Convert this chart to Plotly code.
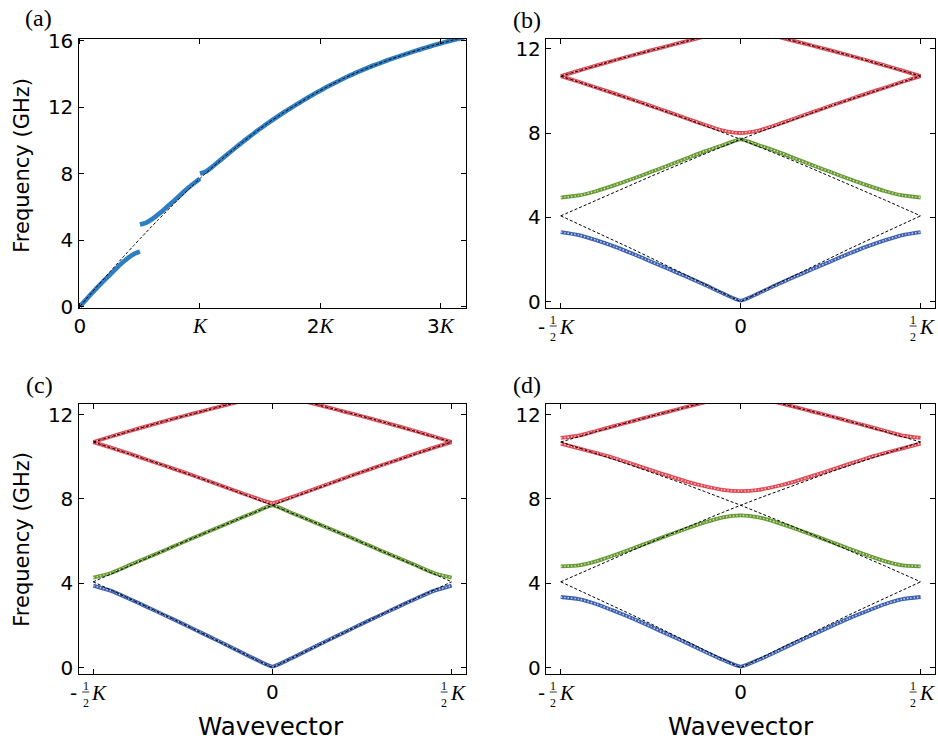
import plotly.graph_objects as go

# ---------------- data (k in units of K, frequency in GHz) ----------------
# free (empty-lattice) dispersion in the extended zone (black dashed)
free_k = [0.00, 0.05, 0.10, 0.15, 0.20, 0.25, 0.30, 0.35, 0.40, 0.45,
          0.50, 0.55, 0.60, 0.65, 0.70, 0.75, 0.80, 0.85, 0.90, 0.95,
          1.00, 1.05, 1.10, 1.15, 1.20, 1.25, 1.30, 1.35, 1.40, 1.45,
          1.50, 1.55, 1.60, 1.65, 1.70, 1.75, 1.80, 1.85, 1.90, 1.95,
          2.00, 2.05, 2.10, 2.15, 2.20, 2.25, 2.30, 2.35, 2.40, 2.45,
          2.50, 2.55, 2.60, 2.65, 2.70, 2.75, 2.80, 2.85, 2.90, 2.95,
          3.00, 3.05, 3.10, 3.15, 3.20]
free_f = [0.00, 0.42, 0.84, 1.26, 1.67, 2.08, 2.49, 2.89, 3.29, 3.68,
          4.07, 4.45, 4.83, 5.20, 5.57, 5.94, 6.30, 6.66, 7.01, 7.36,
          7.70, 8.03, 8.35, 8.67, 8.98, 9.28, 9.57, 9.86, 10.15, 10.43,
          10.70, 10.96, 11.21, 11.45, 11.69, 11.92, 12.14, 12.36, 12.58, 12.79,
          12.99, 13.19, 13.38, 13.56, 13.74, 13.91, 14.07, 14.22, 14.37, 14.52,
          14.65, 14.79, 14.92, 15.04, 15.16, 15.28, 15.40, 15.51, 15.62, 15.73,
          15.83, 15.93, 16.03, 16.12, 16.20]

# panel (a): computed branches in the extended zone
a_k1 = [0.00, 0.05, 0.10, 0.15, 0.20, 0.25, 0.30, 0.35, 0.40, 0.45, 0.50]
a_f1 = [0.00, 0.40, 0.80, 1.18, 1.55, 1.91, 2.27, 2.61, 2.91, 3.16, 3.30]
a_k2 = [0.50, 0.55, 0.60, 0.65, 0.70, 0.75, 0.80, 0.85, 0.90, 0.95, 1.00]
a_f2 = [4.94, 5.04, 5.25, 5.53, 5.83, 6.15, 6.47, 6.80, 7.13, 7.42, 7.70]
a_k3 = [1.00, 1.05, 1.10, 1.15, 1.20, 1.25, 1.30, 1.35, 1.40, 1.45,
        1.50, 1.55, 1.60, 1.65, 1.70, 1.75, 1.80, 1.85, 1.90, 1.95,
        2.00, 2.05, 2.10, 2.15, 2.20, 2.25, 2.30, 2.35, 2.40, 2.45,
        2.50, 2.55, 2.60, 2.65, 2.70, 2.75, 2.80, 2.85, 2.90, 2.95,
        3.00, 3.05, 3.10, 3.15, 3.20]
a_f3 = [8.00, 8.12, 8.39, 8.69, 8.99, 9.29, 9.58, 9.87, 10.15, 10.43,
        10.70, 10.96, 11.21, 11.45, 11.69, 11.92, 12.14, 12.36, 12.58, 12.79,
        12.99, 13.19, 13.38, 13.56, 13.74, 13.91, 14.07, 14.22, 14.37, 14.52,
        14.65, 14.79, 14.92, 15.04, 15.16, 15.28, 15.40, 15.51, 15.62, 15.73,
        15.83, 15.93, 16.03, 16.12, 16.20]

# panels (b)-(d): reduced-zone bands on half zone 0..K/2 (symmetric in k)
half_k = [0.00, 0.05, 0.10, 0.15, 0.20, 0.25, 0.30, 0.35, 0.40, 0.45, 0.50]
b_band1 = [0.05, 0.40, 0.80, 1.18, 1.55, 1.91, 2.27, 2.61, 2.91, 3.16, 3.30]
b_band2 = [7.70, 7.42, 7.13, 6.80, 6.47, 6.15, 5.83, 5.53, 5.25, 5.04, 4.94]
b_band3 = [8.00, 8.12, 8.39, 8.69, 8.99, 9.29, 9.58, 9.87, 10.15, 10.43, 10.70]
b_band4 = [12.99, 12.79, 12.58, 12.36, 12.14, 11.92, 11.69, 11.45, 11.21, 10.96, 10.70]

c_band1 = [0.05, 0.42, 0.84, 1.26, 1.67, 2.08, 2.48, 2.88, 3.27, 3.64, 3.89]
c_band2 = [7.70, 7.36, 7.01, 6.66, 6.30, 5.94, 5.57, 5.21, 4.85, 4.49, 4.27]
c_band3 = [7.80, 8.06, 8.36, 8.67, 8.98, 9.28, 9.57, 9.86, 10.15, 10.43, 10.69]
c_band4 = [12.99, 12.79, 12.58, 12.36, 12.14, 11.92, 11.69, 11.45, 11.21, 10.96, 10.70]

d_band1 = [0.05, 0.37, 0.76, 1.17, 1.56, 1.95, 2.33, 2.68, 3.01, 3.25, 3.35]
d_band2 = [7.22, 7.13, 6.89, 6.60, 6.29, 5.97, 5.65, 5.34, 5.05, 4.85, 4.80]
d_band3 = [8.37, 8.43, 8.60, 8.82, 9.09, 9.37, 9.65, 9.93, 10.17, 10.40, 10.62]
d_band4 = [12.99, 12.79, 12.58, 12.36, 12.14, 11.92, 11.69, 11.46, 11.23, 11.00, 10.89]

a_ticks = [0, 1, 2, 3]
a_yticks = [0, 4, 8, 12, 16]
bcd_ticks = [-0.5, 0, 0.5]
bcd_yticks = [0, 4, 8, 12]

# ---------------- styling ----------------
BLUE_A = "#2f7ec1"
BAND_COL = ["#3f62b0", "#679a35", "#e04853", "#e04853"]
BAND_LIGHT = ["#c9d4ee", "#d3e4bf", "#f9d0d3", "#f9d0d3"]
SANS = "DejaVu Sans"
SERIF = "Liberation Serif"
KHTML = "<span style='font-family:Liberation Serif;font-size:21px'><i>K</i></span>"

W, H = 938, 742
# plot areas in pixels: (left, right, top, bottom)
boxes = {
    "a": (78.5, 466, 39, 308),
    "b": (546, 935, 39, 308),
    "c": (78.5, 466, 404, 674),
    "d": (546, 935, 404, 674),
}


def dom(b):
    l, r, t, btm = b
    return [l / W, r / W], [(H - btm) / H, (H - t) / H]


fig = go.Figure()


def mirror(vals):
    xs = [-k for k in reversed(half_k)] + half_k[1:]
    ys = list(reversed(vals)) + vals[1:]
    return xs, ys


def folded(branch):
    lo, hi = 0.5 * branch - 1e-9, 0.5 * (branch + 1) + 1e-9
    pts = [(abs(k - round(k)), f) for k, f in zip(free_k, free_f) if lo <= k <= hi]
    pts.sort()
    xs = [-q for q, _ in reversed(pts)] + [q for q, _ in pts[1:]]
    ys = [f for _, f in reversed(pts)] + [f for _, f in pts[1:]]
    return xs, ys


def add_band(xs, ys, i, xa, ya):
    fig.add_trace(go.Scatter(x=xs, y=ys, mode="lines", xaxis=xa, yaxis=ya,
                             line=dict(color=BAND_COL[i], width=3.8, shape="spline", smoothing=0.5),
                             hoverinfo="skip"))
    fig.add_trace(go.Scatter(x=xs, y=ys, mode="lines", xaxis=xa, yaxis=ya,
                             line=dict(color=BAND_LIGHT[i], width=1.5, shape="spline", smoothing=0.5,
                                       dash="1.3px,2.1px"),
                             hoverinfo="skip"))


def add_dash(xs, ys, xa, ya, smooth=True):
    fig.add_trace(go.Scatter(x=xs, y=ys, mode="lines", xaxis=xa, yaxis=ya,
                             line=dict(color="black", width=1.0, dash="3px,2px",
                                       shape="spline" if smooth else "linear", smoothing=0.3),
                             hoverinfo="skip"))


# panel (a)
for kk, ff in [(a_k1, a_f1), (a_k2, a_f2), (a_k3, a_f3)]:
    fig.add_trace(go.Scatter(x=kk, y=ff, mode="lines", xaxis="x", yaxis="y",
                             line=dict(color=BLUE_A, width=4.6, shape="spline", smoothing=0.5),
                             hoverinfo="skip"))
add_dash(free_k, free_f, "x", "y")

# panels (b), (c), (d)
panel_bands = {
    "2": [b_band1, b_band2, b_band3, b_band4],
    "3": [c_band1, c_band2, c_band3, c_band4],
    "4": [d_band1, d_band2, d_band3, d_band4],
}
for ax, bands in panel_bands.items():
    for i, vals in enumerate(bands):
        xs, ys = mirror(vals)
        add_band(xs, ys, i, "x" + ax, "y" + ax)
    for br in range(4):
        xs, ys = folded(br)
        add_dash(xs, ys, "x" + ax, "y" + ax, smooth=False)

axis_common = dict(showline=True, linecolor="black", linewidth=1.3, mirror="ticks",
                   ticks="inside", ticklen=5, tickwidth=1, tickcolor="black",
                   showgrid=False, zeroline=False, automargin=False,
                   tickfont=dict(family=SANS, size=20, color="black"))

layout = dict(width=W, height=H, margin=dict(l=0, r=0, t=0, b=0, pad=0, autoexpand=False),
              paper_bgcolor="white", plot_bgcolor="white", showlegend=False,
              template="none")

xd, yd = dom(boxes["a"])
layout["xaxis"] = dict(axis_common, domain=xd, anchor="y", range=[-0.011, 3.214],
                       tickvals=a_ticks, ticktext=["0", KHTML, "2" + KHTML, "3" + KHTML],
                       ticklabelstandoff=0)
layout["yaxis"] = dict(axis_common, domain=yd, anchor="x", range=[-0.09, 16.1],
                       tickvals=a_yticks, ticktext=[str(v) for v in a_yticks])

yranges = {"2": [-0.30, 12.46], "3": [-0.30, 12.50], "4": [-0.30, 12.50]}
for ax, key in [("2", "b"), ("3", "c"), ("4", "d")]:
    xd, yd = dom(boxes[key])
    layout["xaxis" + ax] = dict(axis_common, domain=xd, anchor="y" + ax, range=[-0.541, 0.540],
                                tickvals=bcd_ticks, ticktext=["", "0", ""], ticklabelstandoff=0)
    layout["yaxis" + ax] = dict(axis_common, domain=yd, anchor="x" + ax, range=yranges[ax],
                                tickvals=bcd_yticks, ticktext=[str(v) for v in bcd_yticks])

annotations = []
shapes = []


def ann(text, x, y, xref="paper", yref="paper", size=20, family=SANS, xshift=0, yshift=0, angle=0):
    annotations.append(dict(text=text, x=x, y=y, xref=xref, yref=yref, showarrow=False,
                            xanchor="center", yanchor="middle", xshift=xshift, yshift=yshift,
                            textangle=angle, font=dict(family=family, size=size, color="black")))


# fraction tick labels  -1/2 K  and  1/2 K
for ax, key in [("2", "b"), ("3", "c"), ("4", "d")]:
    ybot = (H - boxes[key][3]) / H
    for t in [-0.5, 0.5]:
        xr = "x" + ax
        ann("1", t, ybot, xref=xr, size=12, family=SERIF, xshift=-7.5, yshift=-11.5)
        ann("2", t, ybot, xref=xr, size=12, family=SERIF, xshift=-7.5, yshift=-28.5)
        ann("<i>K</i>", t, ybot, xref=xr, size=21, family=SERIF, xshift=6, yshift=-19)
        if t < 0:
            ann("-", t, ybot, xref=xr, size=20, family=SANS, xshift=-19.5, yshift=-19)
        shapes.append(dict(type="line", xref=xr, yref="paper", xsizemode="pixel", ysizemode="pixel",
                           xanchor=t, yanchor=ybot, x0=-11, x1=-4, y0=-18, y1=-18,
                           line=dict(color="black", width=0.8)))

# axis titles
ann("Frequency (GHz)", 21.7 / W, 1 - 165 / H, size=21, angle=-90)
ann("Frequency (GHz)", 21.7 / W, 1 - 539 / H, size=21, angle=-90)
ann("Wavevector", 271 / W, 1 - 726 / H, size=24.5)
ann("Wavevector", 741 / W, 1 - 726 / H, size=24.5)

# panel labels
ann("(a)", 38.5 / W, 1 - 18 / H, size=24, family=SERIF)
ann("(b)", 527 / W, 1 - 20 / H, size=24, family=SERIF)
ann("(c)", 39 / W, 1 - 385 / H, size=24, family=SERIF)
ann("(d)", 527 / W, 1 - 385 / H, size=24, family=SERIF)

layout["annotations"] = annotations
layout["shapes"] = shapes
fig.update_layout(**layout)
fig.write_html("out.html", config={"displayModeBar": False},
               post_script="document.body.style.margin='0px';")
